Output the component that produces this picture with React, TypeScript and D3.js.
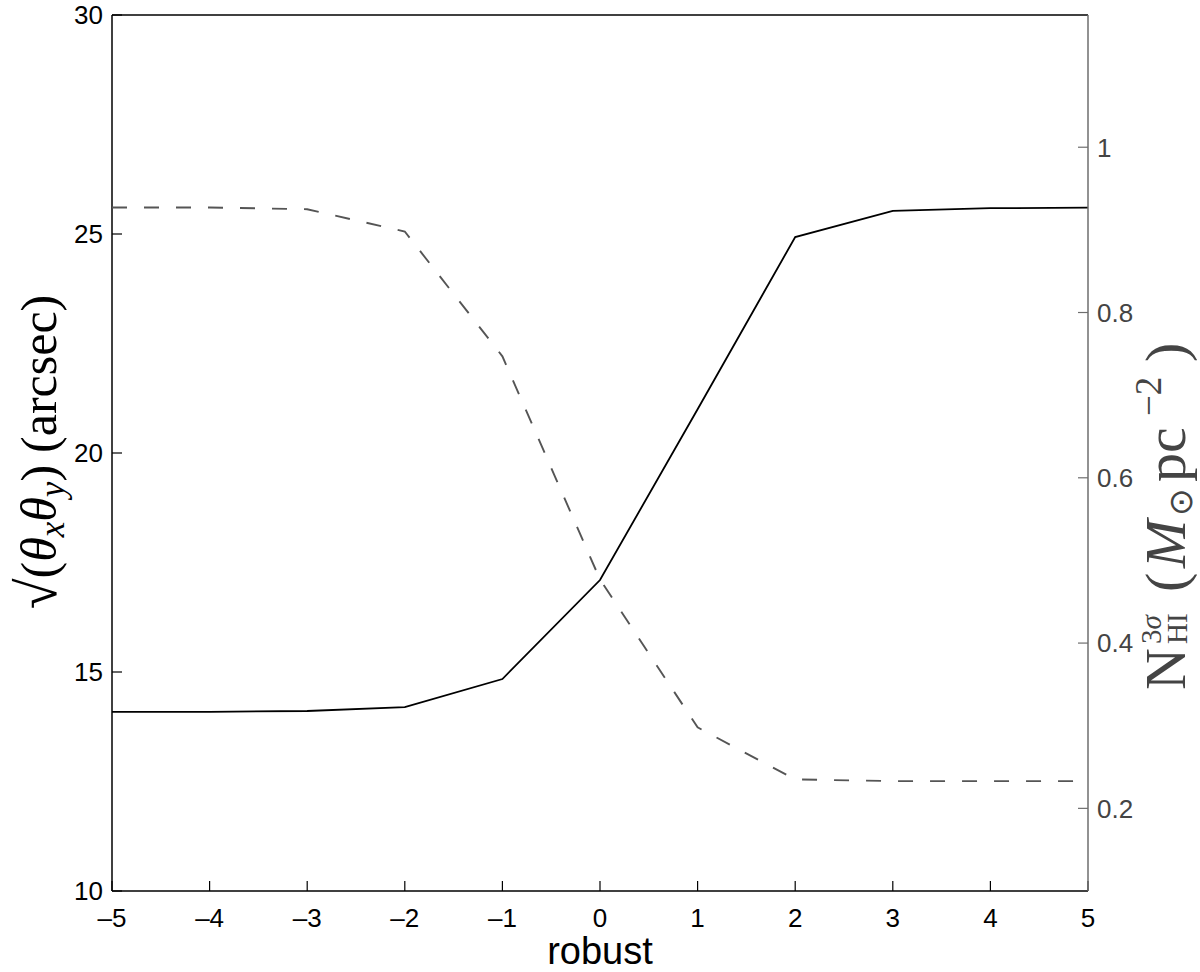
import React from 'react';
import * as d3 from 'd3';

// robust parameter vs beam size (left) and 3-sigma column density (right)
const robust = [-5, -4, -3, -2, -1, 0, 1, 2, 3, 4, 5];
const beamSize = [14.09, 14.09, 14.11, 14.2, 14.84, 17.1, 21.0, 24.93, 25.53, 25.59, 25.6];
const colDensity = [0.927, 0.927, 0.925, 0.898, 0.747, 0.477, 0.298, 0.235, 0.233, 0.233, 0.233];

const xTicks = [-5, -4, -3, -2, -1, 0, 1, 2, 3, 4, 5];
const leftTicks = [10, 15, 20, 25, 30];
const rightTicks = [0.2, 0.4, 0.6, 0.8, 1];

const W = 1200;
const H = 972;
const margin = { top: 15, right: 112, bottom: 81, left: 112 };

const sans = 'Liberation Sans, Arial, Helvetica, sans-serif';
const serif = 'Liberation Serif, Times New Roman, serif';
const grey = '#6e6e6e';
const greyText = '#444';

export default function App() {
  const x = d3.scaleLinear().domain([-5, 5]).range([margin.left, W - margin.right]);
  const yL = d3.scaleLinear().domain([10, 30]).range([H - margin.bottom, margin.top]);
  const yR = d3.scaleLinear().domain([0.1, 1.16]).range([H - margin.bottom, margin.top]);

  const x0 = x(-5);
  const x1 = x(5);
  const yb = yL(10);
  const yt = yL(30);

  const solid = d3.line<number>().x((_, i) => x(robust[i])).y(d => yL(d))(beamSize) || '';
  const dashed = d3.line<number>().x((_, i) => x(robust[i])).y(d => yR(d))(colDensity) || '';

  const tick = 10;
  // right label pieces: local x = 500 - screen y where the piece starts (reading upwards)
  const rl = (sy: number) => 500 - sy;

  return (
    <svg width={W} height={H} style={{ position: 'absolute', left: 0, top: 0, background: '#fff' }}>
      {/* box: top and left in black */}
      <line x1={x0} x2={x1} y1={yt} y2={yt} stroke="#000" strokeWidth={1.5} />
      <line x1={x0} x2={x0} y1={yt} y2={yb} stroke="#000" strokeWidth={1.5} />

      {/* data */}
      <path d={dashed} fill="none" stroke="#555" strokeWidth={1.9} strokeDasharray="15 17" />
      <path d={solid} fill="none" stroke="#000" strokeWidth={1.8} />

      {/* bottom axis */}
      <line x1={x0} x2={x1} y1={yb} y2={yb} stroke="#000" strokeWidth={1.5} />
      {xTicks.map(t => (
        <g key={'x' + t}>
          <line x1={x(t)} x2={x(t)} y1={yb} y2={yb - tick} stroke="#000" strokeWidth={1.2} />
          <text x={x(t)} y={927} textAnchor="middle" fontFamily={sans} fontSize={26} fill="#000">
            {t < 0 ? '\u2013' + Math.abs(t) : t}
          </text>
        </g>
      ))}
      <text x={(x0 + x1) / 2} y={964} textAnchor="middle" fontFamily={sans} fontSize={38} fill="#000">
        robust
      </text>

      {/* left axis */}
      {leftTicks.map(t => (
        <g key={'l' + t}>
          <line x1={x0} x2={x0 + tick} y1={yL(t)} y2={yL(t)} stroke="#000" strokeWidth={1.2} />
          <text x={103} y={yL(t)} dy="0.36em" textAnchor="end" fontFamily={sans} fontSize={26} fill="#000">
            {t}
          </text>
        </g>
      ))}
      <g transform={`translate(56, 452) rotate(-90)`}>
        <text x={0} y={0} textAnchor="middle" fontFamily={serif} fontSize={50} fill="#000">
          <tspan fontSize={56}>{'\u221A'}</tspan>
          <tspan>(</tspan>
          <tspan fontStyle="italic">{'\u03B8'}</tspan>
          <tspan fontStyle="italic" fontSize={35} dy={8}>x</tspan>
          <tspan fontStyle="italic" dy={-8}>{'\u03B8'}</tspan>
          <tspan fontStyle="italic" fontSize={35} dy={8}>y</tspan>
          <tspan dy={-8}>)</tspan>
          <tspan dx={12}>(arcsec)</tspan>
        </text>
      </g>

      {/* right axis */}
      <line x1={x1} x2={x1} y1={yt} y2={yb} stroke={grey} strokeWidth={1.5} />
      {rightTicks.map(t => (
        <g key={'r' + t}>
          <line x1={x1} x2={x1 - tick} y1={yR(t)} y2={yR(t)} stroke={grey} strokeWidth={1.2} />
          <text x={1097} y={yR(t)} dy="0.36em" textAnchor="start" fontFamily={sans} fontSize={26} fill={greyText}>
            {t}
          </text>
        </g>
      ))}
      <g transform={`translate(1185, 500) rotate(-90)`} fill={greyText} fontFamily={serif}>
        <text x={rl(690)} y={0} fontSize={58}>N</text>
        <text x={rl(644)} y={-24} fontSize={29}>3<tspan fontStyle="italic">{'\u03C3'}</tspan></text>
        <text x={rl(644)} y={2} fontSize={29}>HI</text>
        <text x={rl(592)} y={0} fontSize={58}>(</text>
        <text x={rl(568)} y={0} fontSize={58} fontStyle="italic">M</text>
        <text x={rl(516)} y={7} fontSize={33}>{'\u2299'}</text>
        <text x={rl(482)} y={0} fontSize={58}>pc</text>
        <text x={rl(416)} y={-24} fontSize={37}>{'\u22122'}</text>
        <text x={rl(362)} y={0} fontSize={58}>)</text>
      </g>
    </svg>
  );
}
